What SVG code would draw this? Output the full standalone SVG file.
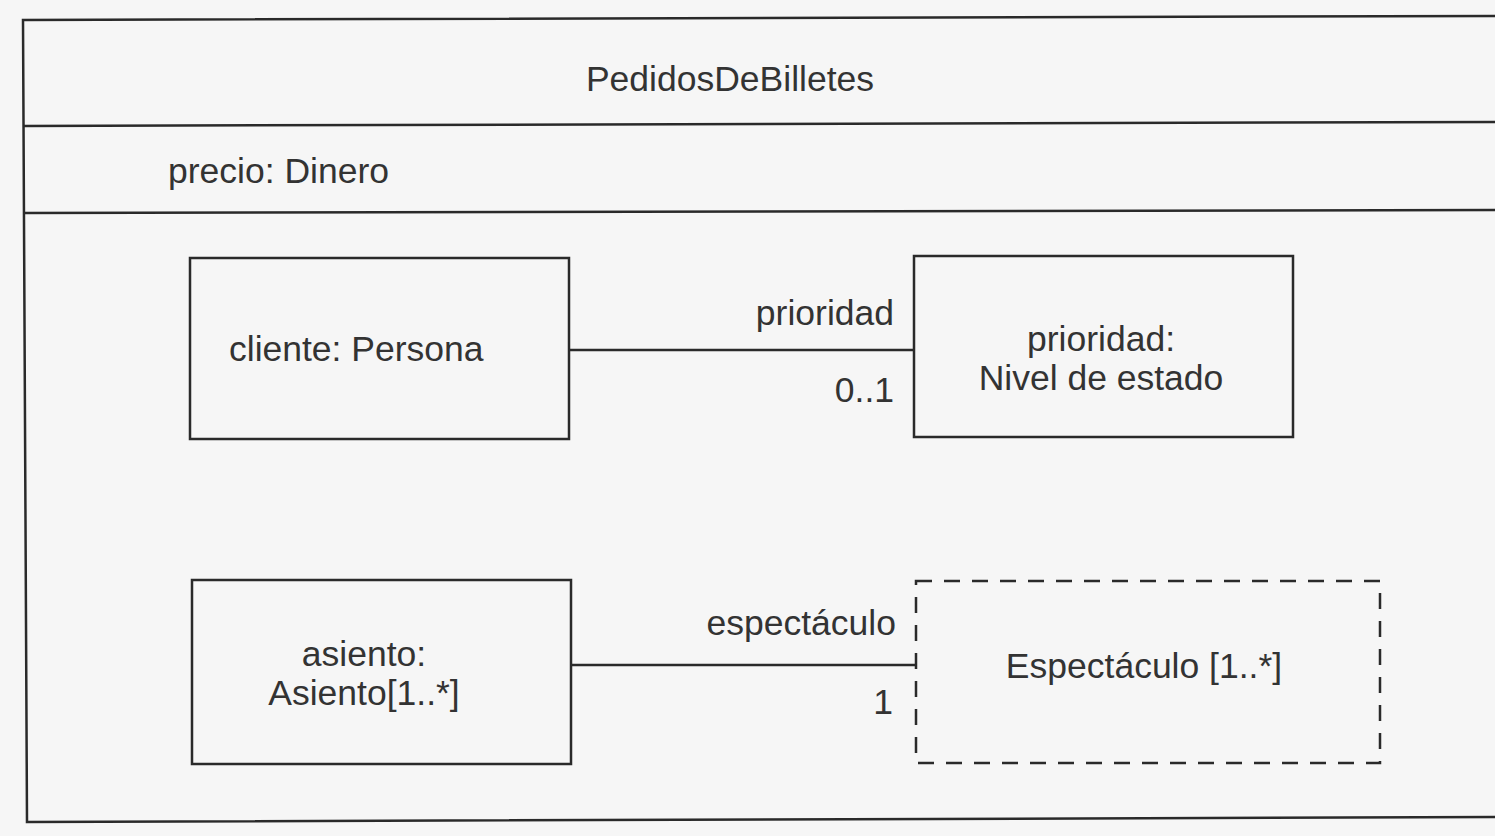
<svg xmlns="http://www.w3.org/2000/svg" width="1495" height="836" viewBox="0 0 1495 836">
<style>
.ln{fill:none;stroke:#2a2a2a;stroke-width:2.5}
.box{fill:none;stroke:#2a2a2a;stroke-width:2.5}
.dash{fill:none;stroke:#2a2a2a;stroke-width:2.5;stroke-dasharray:16 12}
text{font-family:"Liberation Sans",Arial,sans-serif;font-size:35.5px;fill:#333}
.m{text-anchor:middle}
.e{text-anchor:end}
</style>
<rect width="1495" height="836" fill="#f6f6f6"/>
<g id="frame">
<path class="ln" d="M1500,16 L23,20 L27,822 L1500,817"/>
<path class="ln" d="M23,126 L1500,122"/>
<path class="ln" d="M24,213 L1500,210"/>
<text class="m" x="730" y="91">PedidosDeBilletes</text>
<text x="168" y="183">precio: Dinero</text>
</g>
<g id="cliente">
<rect class="box" x="190" y="258" width="379" height="181"/>
<text x="229" y="361">cliente: Persona</text>
</g>
<g id="prioridad">
<rect class="box" x="914" y="256" width="379" height="181"/>
<text class="m" x="1101" y="351">prioridad:</text>
<text class="m" x="1101" y="390">Nivel de estado</text>
</g>
<g id="asiento">
<rect class="box" x="192" y="580" width="379" height="184"/>
<text class="m" x="364" y="666">asiento:</text>
<text class="m" x="364" y="705">Asiento[1..*]</text>
</g>
<g id="espectaculo">
<rect class="dash" x="916" y="581" width="464" height="182"/>
<text class="m" x="1144" y="678">Espectáculo [1..*]</text>
</g>
<g id="connectors">
<line class="ln" x1="569" y1="350" x2="914" y2="350"/>
<text class="e" x="894" y="325">prioridad</text>
<text class="e" x="894" y="402">0..1</text>
<line class="ln" x1="571" y1="665" x2="916" y2="665"/>
<text class="e" x="896" y="635">espectáculo</text>
<text class="e" x="893" y="714">1</text>
</g>
</svg>
